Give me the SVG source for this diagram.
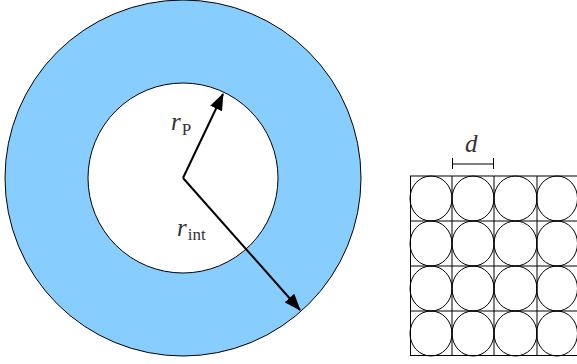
<svg xmlns="http://www.w3.org/2000/svg" width="577" height="364" viewBox="0 0 577 364">
<style>
.ring{fill:#87CEFF;stroke:#000;stroke-width:1}
.hole{fill:#fff;stroke:#000;stroke-width:1}
.arr{stroke:#000;stroke-width:2;fill:none}
.lbl{font-family:"Liberation Serif",serif;font-style:italic;font-size:25px;fill:#333}
.sub{font-family:"Liberation Serif",serif;font-style:normal;font-size:17px;fill:#333}
.grid{stroke:#000;stroke-width:1;fill:none}
.cell{stroke:#000;stroke-width:1;fill:none}
</style>
<defs>
<marker id="ah" viewBox="0 0 17 13" refX="16" refY="6.5" markerWidth="17" markerHeight="13" markerUnits="userSpaceOnUse" orient="auto">
<path d="M0,0 L17,6.5 L0,13 Z" fill="#000"/>
</marker>
</defs>
<g id="annulus">
<circle class="ring" cx="183" cy="178" r="178"/>
<circle class="hole" cx="183" cy="178" r="95"/>
</g>
<g id="connectors">
<line class="arr" x1="183" y1="178" x2="223" y2="94" marker-end="url(#ah)"/>
<line class="arr" x1="183" y1="178" x2="300" y2="310" marker-end="url(#ah)"/>
</g>
<g id="label-rP">
<text class="lbl" x="171" y="130">r<tspan class="sub" dy="5" dx="1">P</tspan></text>
</g>
<g id="label-rint">
<text class="lbl" x="177" y="236">r<tspan class="sub" dy="4" dx="1">int</tspan></text>
</g>
<g id="grid">
<g class="grid">
<line x1="410" y1="176" x2="577" y2="176"/>
<line x1="410" y1="221" x2="577" y2="221"/>
<line x1="410" y1="266" x2="577" y2="266"/>
<line x1="410" y1="311" x2="577" y2="311"/>
<line x1="410" y1="355.5" x2="577" y2="355.5"/>
<line x1="410.5" y1="176" x2="410.5" y2="356"/>
<line x1="452" y1="176" x2="452" y2="356"/>
<line x1="494" y1="176" x2="494" y2="356"/>
<line x1="537" y1="176" x2="537" y2="356"/>
</g>
<g class="cell">
<ellipse cx="431" cy="198.5" rx="21" ry="22.5"/>
<ellipse cx="473" cy="198.5" rx="21" ry="22.5"/>
<ellipse cx="515.5" cy="198.5" rx="21.5" ry="22.5"/>
<ellipse cx="557" cy="198.5" rx="20.5" ry="22.5"/>
<ellipse cx="431" cy="243.5" rx="21" ry="22.5"/>
<ellipse cx="473" cy="243.5" rx="21" ry="22.5"/>
<ellipse cx="515.5" cy="243.5" rx="21.5" ry="22.5"/>
<ellipse cx="557" cy="243.5" rx="20.5" ry="22.5"/>
<ellipse cx="431" cy="288.5" rx="21" ry="22.5"/>
<ellipse cx="473" cy="288.5" rx="21" ry="22.5"/>
<ellipse cx="515.5" cy="288.5" rx="21.5" ry="22.5"/>
<ellipse cx="557" cy="288.5" rx="20.5" ry="22.5"/>
<ellipse cx="431" cy="333.5" rx="21" ry="22.5"/>
<ellipse cx="473" cy="333.5" rx="21" ry="22.5"/>
<ellipse cx="515.5" cy="333.5" rx="21.5" ry="22.5"/>
<ellipse cx="557" cy="333.5" rx="20.5" ry="22.5"/>
</g>
</g>
<g id="dimension-d">
<line class="grid" x1="452.5" y1="164" x2="493.5" y2="164"/>
<line class="grid" x1="452.5" y1="158" x2="452.5" y2="169"/>
<line class="grid" x1="493.5" y1="158" x2="493.5" y2="169"/>
<text class="lbl" x="465" y="152">d</text>
</g>
</svg>
